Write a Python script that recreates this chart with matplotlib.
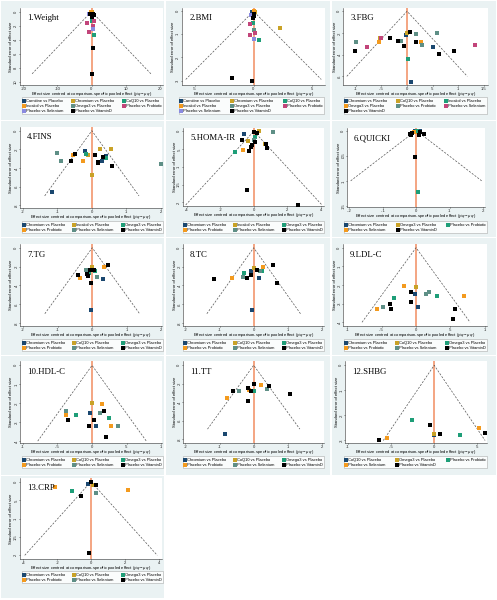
"""Network funnel plots for 13 outcomes, Stata-like layout."""

import matplotlib
matplotlib.use("Agg")
import matplotlib.pyplot as plt
from matplotlib.patches import Rectangle
from matplotlib.ticker import FixedLocator, FuncFormatter

plt.rcParams["font.family"] = ["Liberation Sans", "DejaVu Sans"]
plt.rcParams["mathtext.fontset"] = "custom"
plt.rcParams["mathtext.rm"] = "Liberation Sans"
plt.rcParams["mathtext.it"] = "Liberation Sans:italic"

# --- data: per outcome, comparison -> (centred effect, standard error) ---
weight = {
    "Carnitine vs Placebo": ([-0.5], [0.3]),
    "Chromium vs Placebo": ([0.1], [0.1]),
    "CoQ10 vs Placebo": ([0.0, 0.6], [1.3, 3.4]),
    "Inositol vs Placebo": ([-0.1], [0.05]),
    "Omega3 vs Placebo": ([0.0], [0.5]),
    "Placebo vs Probiotic": ([-1.3, 0.7, 0.5, -0.6], [1.6, 1.3, 2.1, 2.9]),
    "Placebo vs Selenium": ([0.3, -0.7], [2.5, 0.4]),
    "Placebo vs VitaminD": ([-0.3, 0.3, 0.7, 0.2, 0.4, 0.0], [0.3, 0.3, 0.45, 0.8, 5.2, 8.9]),
}
bmi = {
    "Carnitine vs Placebo": ([-0.1], [0.05]),
    "Chromium vs Placebo": ([2.3, 0.1], [0.74, 0.05]),
    "CoQ10 vs Placebo": ([0.48, -0.06], [1.26, 0.5]),
    "Inositol vs Placebo": ([0.0], [0.0]),
    "Omega3 vs Placebo": ([0.0], [0.81]),
    "Placebo vs Probiotic": ([-0.3, 0.14, -0.34], [1.04, 0.96, 0.56]),
    "Placebo vs Selenium": ([0.06, -0.23], [1.19, 0.17]),
    "Placebo vs VitaminD": ([-1.8, -0.1, 0.06, 0.0, -0.03], [2.89, 3.0, 0.1, 0.19, 0.31]),
}
fbg = {
    "Chromium vs Placebo": ([0.08, -0.03, 0.51], [0.65, 0.22, 0.33]),
    "CoQ10 vs Placebo": ([-0.52, 0.0], [0.25, 0.2]),
    "Inositol vs Placebo": ([0.01], [0.44]),
    "Omega3 vs Placebo": ([-0.54, 0.27], [0.28, 0.28]),
    "Placebo vs Probiotic": ([-1.0, -0.11, 0.18, 0.29, 0.58], [0.28, 0.27, 0.21, 0.31, 0.2]),
    "Placebo vs Selenium": ([-0.79, -0.51, 1.32], [0.33, 0.25, 0.31]),
    "Placebo vs VitaminD": ([-1.02, -0.33, -0.18, -0.05, 0.06, 0.18, 0.62, 0.91],
                            [0.37, 0.25, 0.27, 0.32, 0.19, 0.28, 0.39, 0.37]),
}
fins = {
    "Chromium vs Placebo": ([-1.15, -0.21, 0.3, 0.42], [0.66, 0.22, 0.33, 0.27]),
    "Inositol vs Placebo": ([-0.12, 0.0, 0.24, 0.55], [0.26, 0.48, 0.2, 0.2]),
    "Omega3 vs Placebo": ([-0.17, 0.42], [0.25, 0.29]),
    "Placebo vs Probiotic": ([-0.56, -0.25], [0.26, 0.32]),
    "Placebo vs Selenium": ([-1.02, -0.91, 2.02], [0.24, 0.32, 0.36]),
    "Placebo vs VitaminD": ([-0.62, -0.5, 0.08, 0.18, 0.19, 0.32, 0.59],
                            [0.33, 0.25, 0.26, 0.34, 0.35, 0.28, 0.38]),
}
homa = {
    "Chromium vs Placebo": ([-0.6], [0.09]),
    "Inositol vs Placebo": ([0.32, -0.32, 0.64], [0.0, 0.28, 0.37]),
    "Omega3 vs Placebo": ([0.04, -1.1], [0.17, 0.57]),
    "Placebo vs Probiotic": ([-0.66], [0.52]),
    "Placebo vs Selenium": ([1.12, 0.0], [0.02, 0.24]),
    "Placebo vs VitaminD": ([2.64, -0.42, 0.0, 0.18, -0.7, 0.04, -0.1, -0.18, 0.7, 0.78, -0.26],
                            [2.07, 1.65, 0.03, 0.05, 0.26, 0.29, 0.39, 0.44, 0.35, 0.46, 0.55]),
}
quicki = {
    "Chromium vs Placebo": ([-0.002, 0.012], [0.0, 0.0]),
    "Omega3 vs Placebo": ([0.0], [0.003]),
    "Placebo vs Probiotic": ([0.004, 0.002], [0.123, 0.0]),
    "Placebo vs Selenium": ([-0.005], [0.002]),
    "Placebo vs VitaminD": ([-0.004, -0.017, -0.012, 0.01, 0.008, 0.023, -0.014],
                            [0.052, 0.007, 0.005, 0.002, 0.008, 0.007, 0.009]),
}
tg = {
    "Chromium vs Placebo": ([-0.04, 0.3], [0.66, 0.33]),
    "CoQ10 vs Placebo": ([0.0, -0.14], [0.2, 0.27]),
    "Omega3 vs Placebo": ([0.08, -0.1], [0.25, 0.27]),
    "Placebo vs Probiotic": ([0.33, -0.35], [0.2, 0.32]),
    "Placebo vs Selenium": ([0.14, -0.17], [0.31, 0.24]),
    "Placebo vs VitaminD": ([-0.03, 0.47, 0.04, -0.06, -0.14, -0.13, -0.41],
                            [0.37, 0.18, 0.24, 0.24, 0.28, 0.3, 0.29]),
}
tc = {
    "Chromium vs Placebo": ([-0.05, -0.08, 0.17], [0.66, 0.25, 0.32]),
    "CoQ10 vs Placebo": ([0.0], [0.21]),
    "Omega3 vs Placebo": ([-0.27, 0.25], [0.27, 0.25]),
    "Placebo vs Probiotic": ([-0.64, 0.28], [0.32, 0.2]),
    "Placebo vs Selenium": ([-0.31, 0.2], [0.31, 0.25]),
    "Placebo vs VitaminD": ([-1.17, -0.2, -0.09, 0.11, 0.58, 0.68], [0.33, 0.32, 0.29, 0.24, 0.18, 0.37]),
}
ldl = {
    "Chromium vs Placebo": ([-0.02, 0.03], [0.25, 0.32]),
    "CoQ10 vs Placebo": ([0.0], [0.21]),
    "Omega3 vs Placebo": ([0.3, -0.32], [0.26, 0.27]),
    "Placebo vs Probiotic": ([-0.18, 0.69, -0.57], [0.205, 0.26, 0.33]),
    "Placebo vs Selenium": ([0.14, 0.19, -0.48], [0.25, 0.24, 0.32]),
    "Placebo vs VitaminD": ([-0.08, -0.08, -0.38, -0.37, 0.57, 0.53], [0.24, 0.29, 0.3, 0.33, 0.33, 0.38]),
}
hdl = {
    "Chromium vs Placebo": ([-0.03, 0.05], [0.25, 0.32]),
    "CoQ10 vs Placebo": ([0.0], [0.2]),
    "Omega3 vs Placebo": ([-0.23, 0.25], [0.26, 0.28]),
    "Placebo vs Probiotic": ([0.14, -0.38, 0.27], [0.205, 0.26, 0.32]),
    "Placebo vs Selenium": ([-0.38, 0.11, 0.37], [0.24, 0.25, 0.32]),
    "Placebo vs VitaminD": ([0.17, 0.03, -0.35, -0.05, 0.2], [0.24, 0.29, 0.29, 0.32, 0.38]),
}
tt = {
    "Chromium vs Placebo": ([-0.84], [0.74]),
    "CoQ10 vs Placebo": ([0.46], [0.22]),
    "Omega3 vs Placebo": ([0.0], [0.28]),
    "Placebo vs Probiotic": ([-0.77, -0.14, 0.21], [0.35, 0.27, 0.21]),
    "Placebo vs Selenium": ([-0.43, 0.4], [0.28, 0.26]),
    "Placebo vs VitaminD": ([-0.61, -0.17, -0.17, -0.09, 0.0, 0.44, 1.07],
                            [0.28, 0.39, 0.25, 0.28, 0.2, 0.22, 0.31]),
}
shbg = {
    "CoQ10 vs Placebo": ([0.0], [0.278]),
    "Omega3 vs Placebo": ([0.0], [0.275]),
    "Placebo vs Probiotic": ([-0.26, 0.3], [0.22, 0.28]),
    "Placebo vs Selenium": ([0.52, -0.54], [0.25, 0.29]),
    "Placebo vs VitaminD": ([-0.05, 0.07, 0.59, -0.64], [0.24, 0.275, 0.27, 0.3]),
}
crp = {
    "Chromium vs Placebo": ([-0.2], [0.05]),
    "CoQ10 vs Placebo": ([0.1], [0.1]),
    "Omega3 vs Placebo": ([-1.1], [0.25]),
    "Placebo vs Probiotic": ([2.2, -2.1], [0.22, 0.15]),
    "Placebo vs Selenium": ([0.3], [0.3]),
    "Placebo vs VitaminD": ([0.0, 0.3, -0.6, -0.1], [0.02, 0.1, 0.4, 1.95]),
}

PALETTE = ["#1A476F", "#C9A227", "#1E9E78", "#F39A1E", "#5E8F86", "#C2457A", "#8A8AE0"]
BG = "#EAF2F3"
W, H = 497, 600

# title, data, axes box (l, t, r, b px), legend box (l, t, r, b px), xlim, xticks, ylim, yticks, funnel se
panels = [
    ("1.Weight", weight, (20, 8, 163, 85), (22, 98, 163, 119), (-21, 21), [-20, -10, 0, 10, 20],
     (10.5, -0.5), [0, 2, 4, 6, 8, 10], 8.9),
    ("2.BMI", bmi, (182, 8, 325, 85), (179, 98, 324, 119), (-6.1, 6.1), [-5, 0, 5],
     (3.19, -0.14), [0, 1, 2, 3], 2.95),
    ("3.FBG", fbg, (343, 8, 488, 85), (344, 98, 487, 119), (-1.25, 1.58), [-1, -0.5, 0, 0.5, 1, 1.5],
     (0.68, -0.03), [0, 0.2, 0.4, 0.6], 0.6),
    ("4.FINS", fins, (20, 127, 162, 208), (22, 222, 163, 235), (-2.09, 2.04), [-2, -1, 0, 1, 2],
     (0.83, -0.04), [0, 0.2, 0.4, 0.6, 0.8], 0.7),
    ("5.HOMA-IR", homa, (183, 128, 324, 206), (183, 222, 324, 235), (-4.22, 4.18), [-4, -2, 0, 2, 4],
     (2.1, -0.09), [0, 0.5, 1, 1.5, 2], 2.07),
    ("6.QUICKI", quicki, (347, 128, 485, 207), (344, 222, 487, 235), (-0.207, 0.206), [-0.2, -0.1, 0, 0.1, 0.2],
     (0.152, -0.005), [0, 0.05, 0.1, 0.15], 0.1),
    ("7.TG", tg, (20, 244, 162, 326), (22, 340, 163, 353), (-2.09, 2.02), [-2, -1, 0, 1, 2],
     (0.83, -0.04), [0, 0.2, 0.4, 0.6, 0.8], 0.7),
    ("8.TC", tc, (183, 244, 324, 326), (183, 340, 324, 353), (-2.07, 2.06), [-2, -1, 0, 1, 2],
     (0.83, -0.04), [0, 0.2, 0.4, 0.6, 0.8], 0.7),
    ("9.LDL-C", ldl, (343, 244, 487, 326), (344, 340, 487, 353), (-1.06, 1.03), [-1, -0.5, 0, 0.5, 1],
     (0.42, -0.02), [0, 0.1, 0.2, 0.3, 0.4], 0.4),
    ("10.HDL-C", hdl, (20, 361, 162, 443), (22, 457, 163, 470), (-1.04, 1.01), [-1, -0.5, 0, 0.5, 1],
     (0.41, -0.023), [0, 0.1, 0.2, 0.3, 0.4], 0.4),
    ("11.TT", tt, (183, 361, 324, 443), (183, 457, 324, 470), (-2.07, 2.06), [-2, -1, 0, 1, 2],
     (0.84, -0.046), [0, 0.2, 0.4, 0.6, 0.8], 0.69),
    ("12.SHBG", shbg, (345, 361, 487, 443), (344, 457, 487, 470), (-1.03, 0.61), [-1, -0.5, 0, 0.5],
     (0.31, -0.017), [0, 0.1, 0.2, 0.3], 0.3),
    ("13.CRP", crp, (20, 478, 162, 559), (22, 572, 163, 585), (-4.2, 4.2), [-4, -2, 0, 2, 4],
     (2.1, -0.1), [0, 0.5, 1, 1.5, 2], 2.0),
]

col_bg = [(1, 164), (166, 330), (332, 496)]
row_bg = [(1, 120), (121, 237), (238, 355), (356, 475), (476, 598)]


def stata_fmt(v, _pos=None):
    s = f"{v:g}"
    if s.startswith("0."):
        s = s[1:]
    elif s.startswith("-0."):
        s = "-" + s[2:]
    return s


def box(l, t, r, b):
    return [l / W, 1 - b / H, (r - l) / W, (b - t) / H]


fig = plt.figure(figsize=(W / 100, H / 100), dpi=100)
fig.patch.set_facecolor("white")

for i, p in enumerate(panels):
    r, c = divmod(i, 3)
    x0, x1 = col_bg[c]
    y0, y1 = row_bg[r]
    fig.patches.append(Rectangle((x0 / W, 1 - y1 / H), (x1 - x0) / W, (y1 - y0) / H,
                                 transform=fig.transFigure, facecolor=BG, edgecolor="none", zorder=-5))

for title, data, abox, lbox, xlim, xticks, ylim, yticks, fse in panels:
    ax = fig.add_axes(box(*abox))
    ax.set_facecolor("white")
    ax.set_xlim(*xlim)
    ax.set_ylim(*ylim)

    # pseudo confidence funnel and zero line
    ax.plot([-1.96 * fse, 0, 1.96 * fse], [fse, 0, fse], ls=(0, (3, 2)), color="#555555", lw=0.5, zorder=2)
    ax.axvline(0, color="#F4A582", lw=1.4, zorder=1)

    names = list(data)
    handles = []
    for k, name in enumerate(names):
        col = "black" if k == len(names) - 1 else PALETTE[k]
        xs, ses = data[name]
        h = ax.scatter(xs, ses, s=5, marker="s", color=col, linewidths=0, zorder=3, label=name)
        handles.append(h)

    ax.xaxis.set_major_locator(FixedLocator(xticks))
    ax.yaxis.set_major_locator(FixedLocator(yticks))
    ax.xaxis.set_major_formatter(FuncFormatter(stata_fmt))
    ax.yaxis.set_major_formatter(FuncFormatter(stata_fmt))
    ax.tick_params(labelsize=3.0, length=1.0, width=0.4, pad=0.3, colors="#222222")
    for lab in ax.get_yticklabels():
        lab.set_rotation(90)
        lab.set_va("center")
    for side in ("top", "right"):
        ax.spines[side].set_visible(False)
    for side in ("left", "bottom"):
        ax.spines[side].set_linewidth(0.4)
        ax.spines[side].set_color("#333333")

    ax.set_xlabel(r"Effect size centred at comparison-specific pooled effect ($y_{ixy}-\mu_{xy}$)",
                  fontsize=3.0)
    ax.xaxis.label.set_va("center")
    ax.xaxis.set_label_coords(0.5, -9.3 / (abox[3] - abox[1]))
    ax.set_ylabel("Standard error of effect size", fontsize=3.0, labelpad=0.5)
    ax.text(0.05, 0.92, title, transform=ax.transAxes, fontsize=6.3, family="Liberation Serif",
            va="top", ha="left")

    order = [j for cc in range(3) for j in range(cc, len(names), 3)]
    l, t, rr, b = lbox
    leg = ax.legend([handles[j] for j in order], [names[j] for j in order], ncol=3,
                    loc="upper left", bbox_to_anchor=(l / W, 1 - t / H, (rr - l) / W, 0.001),
                    bbox_transform=fig.transFigure, mode="expand", fontsize=2.9, frameon=True,
                    fancybox=False, edgecolor="#999999", borderaxespad=0, handlelength=0.4,
                    handletextpad=0.3, columnspacing=0.3, labelspacing=0.25, borderpad=0.35,
                    markerscale=1.0, scatterpoints=1)
    leg.get_frame().set_linewidth(0.4)

fig.savefig("out.png", dpi=100, facecolor="white")
